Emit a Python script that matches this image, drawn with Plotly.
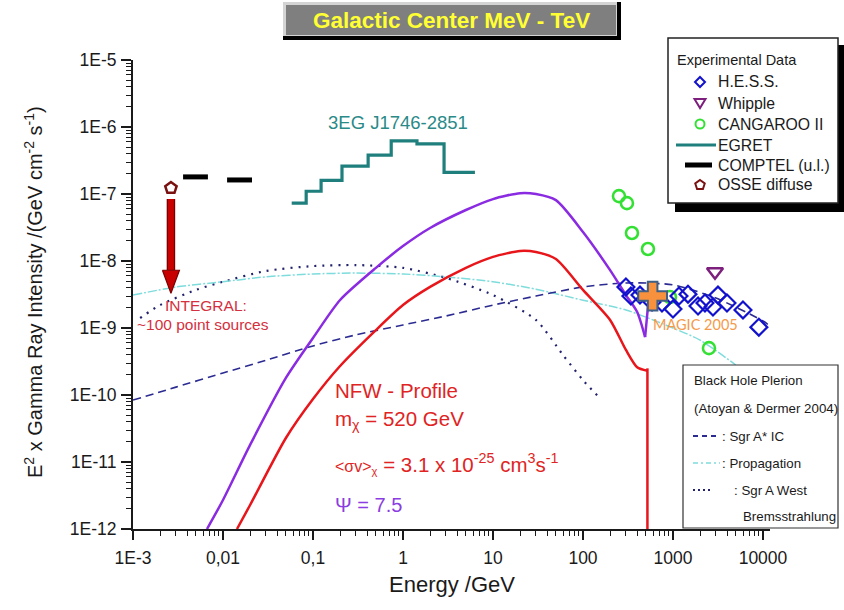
import math
import plotly.graph_objects as go

# ---------------- data ----------------
# EGRET 3EG J1746-2851 binned spectrum (bin edges in GeV, one flux per bin)
egret_edges = [0.058, 0.084, 0.123, 0.21, 0.41, 0.74, 1.43, 2.86, 6.3]
egret_flux = [7.3e-8, 1.1e-7, 1.6e-7, 2.6e-7, 3.8e-7, 6.2e-7, 5.6e-7, 2.1e-7]

# COMPTEL upper limits (energy band low/high, flux)
comptel_lo = [0.0036, 0.0111]
comptel_hi = [0.0068, 0.021]
comptel_flux = [1.8e-7, 1.62e-7]

# OSSE diffuse point and the INTEGRAL point-source level it is pushed down to
osse_e = [0.00264]
osse_f = [1.23e-7]
integral_level = 3.3e-9

# H.E.S.S.
hess_e = [300, 341, 430, 585, 755, 1000, 1166, 1468, 1897, 2268, 2783, 3162, 3981, 5995, 9000]
hess_f = [4.1e-9, 3.0e-9, 3.1e-9, 2.44e-9, 2.36e-9, 1.92e-9, 3.0e-9, 3.2e-9, 2.13e-9,
          2.36e-9, 2.06e-9, 3.1e-9, 2.36e-9, 1.86e-9, 1.03e-9]

# Whipple
whipple_e = [2930]
whipple_f = [6.9e-9]

# CANGAROO II
cang_e = [251, 308, 350, 527, 926, 2512]
cang_f = [9.3e-8, 7.3e-8, 2.62e-8, 1.51e-8, 2.9e-9, 5.0e-10]

# MAGIC 2005
magic_e = [594]
magic_f = [3.0e-9]

# Neutralino annihilation, NFW profile, m_chi = 520 GeV
m_chi = 520
nfw_e = [0.0143, 0.02, 0.05, 0.1, 0.2, 0.5, 1, 2, 5, 10, 20, 30, 50, 100, 200, 300, 400, 520]
nfw_f = [1e-12, 2.28e-12, 2.28e-11, 8.7e-11, 2.71e-10, 9.3e-10, 2.2e-9, 4.1e-9, 7.9e-9,
         1.15e-8, 1.41e-8, 1.36e-8, 1.07e-8, 3.7e-9, 1.32e-9, 4.7e-10, 2.6e-10, 2.3e-10]
nfw_cutoff_top = 2.5e-10

# Same spectrum with boost factor Psi = 7.5
boost_e = [0.00664, 0.01, 0.02, 0.05, 0.1, 0.2, 0.5, 1, 2, 5, 10, 20, 30, 50, 100, 200,
           300, 400, 490, 527]
boost_f = [1e-12, 2.71e-12, 1.8e-11, 1.8e-10, 7.1e-10, 2.62e-9, 7.9e-9, 1.67e-8, 3.11e-8,
           5.77e-8, 8.4e-8, 1.03e-7, 1.0e-7, 8.1e-8, 2.71e-8, 7.3e-9, 3.1e-9, 1.73e-9,
           7.3e-10, 2.06e-9]

# Black hole plerion model (Atoyan & Dermer 2004)
ic_e = [0.001, 0.003, 0.01, 0.03, 0.1, 0.3, 1, 3, 10, 30, 100, 300, 1000, 3000, 10000, 12000]
ic_f = [8.4e-11, 1.31e-10, 2.13e-10, 3.3e-10, 5.4e-10, 7.9e-10, 1.11e-9, 1.51e-9, 2.2e-9,
        3.0e-9, 4.1e-9, 4.7e-9, 4.4e-9, 2.8e-9, 1.27e-9, 1.07e-9]

prop_e = [0.001, 0.003, 0.01, 0.03, 0.1, 0.3, 1, 3, 10, 30, 100, 300, 1000, 2000, 5000]
prop_f = [3.1e-9, 4.1e-9, 4.9e-9, 5.8e-9, 6.4e-9, 6.6e-9, 6.4e-9, 5.8e-9, 4.9e-9, 3.8e-9,
          2.6e-9, 1.86e-9, 1.0e-9, 6.6e-10, 2.8e-10]

west_e = [0.0012, 0.002, 0.005, 0.01, 0.03, 0.1, 0.3, 1, 3, 10, 30, 60, 100, 150]
west_f = [1.41e-9, 2.2e-9, 3.7e-9, 4.9e-9, 7.1e-9, 8.4e-9, 8.7e-9, 7.9e-9, 5.6e-9, 3.1e-9,
          1.32e-9, 3.95e-10, 1.67e-10, 9.3e-11]

# axis ticks
x_tick_vals = [1e-3, 1e-2, 1e-1, 1, 10, 100, 1000, 10000]
x_tick_text = ["1E-3", "0,01", "0,1", "1", "10", "100", "1000", "10000"]
y_tick_vals = [1e-12, 1e-11, 1e-10, 1e-9, 1e-8, 1e-7, 1e-6, 1e-5]
y_tick_text = ["1E-12", "1E-11", "1E-10", "1E-9", "1E-8", "1E-7", "1E-6", "1E-5"]

# ---------------- layout geometry (page pixels) ----------------
W, H = 844, 610
L, R, T, B = 133, 770, 60, 529
PX_PER_DEC_X = (R - L) / 7.078
PX_PER_DEC_Y = (B - T) / 7.0
FONT = "Liberation Sans, Arial, sans-serif"
INK = "#1a1a1a"


def pxx(x):
    return (x - L) / (R - L)


def pyy(y):
    return (B - y) / (B - T)


fig = go.Figure()


def curve(x, y, color, width, dash="solid", smooth=True):
    line = dict(color=color, width=width, dash=dash)
    if smooth:
        line.update(shape="spline", smoothing=0.7)
    fig.add_trace(go.Scatter(x=x, y=y, mode="lines", line=line))


# ---------------- model curves ----------------
curve(west_e, west_f, "#22226e", 2.2, "2px,6px")
curve(prop_e, prop_f, "#7fdcdc", 1.5, "9px,2px,2px,2px")
curve(ic_e, ic_f, "#2b2b92", 1.6, "8px,5px")
curve(nfw_e, nfw_f, "#e8161b", 2.5)
curve([m_chi, m_chi], [nfw_cutoff_top, 1e-13], "#e8161b", 2.5, smooth=False)
curve(boost_e[:-1], boost_f[:-1], "#8a2be2", 2.5)
curve(boost_e[-2:], boost_f[-2:], "#8a2be2", 2.5, smooth=False)

# ---------------- EGRET histogram ----------------
fig.add_trace(go.Scatter(x=egret_edges, y=egret_flux + [egret_flux[-1]], mode="lines",
                         line=dict(color="#1f7f7c", width=3.2, shape="hv")))

# ---------------- COMPTEL upper limits ----------------
for lo, hi, f in zip(comptel_lo, comptel_hi, comptel_flux):
    fig.add_trace(go.Scatter(x=[lo, hi], y=[f, f], mode="lines",
                             line=dict(color="black", width=5)))

# ---------------- OSSE point with arrow down to INTEGRAL level ----------------
e0 = osse_e[0]
shaft_top = osse_f[0] * 10 ** (-11 / PX_PER_DEC_Y)
head_base = integral_level * 10 ** (23 / PX_PER_DEC_Y)
half_head = 10 ** (8.5 / PX_PER_DEC_X)
fig.add_trace(go.Scatter(x=[e0, e0], y=[shaft_top, head_base], mode="lines",
                         line=dict(color="#7a0000", width=8.5)))
fig.add_trace(go.Scatter(x=[e0, e0], y=[shaft_top, head_base], mode="lines",
                         line=dict(color="#c80000", width=6)))
fig.add_trace(go.Scatter(x=[e0 / half_head, e0 * half_head, e0, e0 / half_head],
                         y=[head_base, head_base, integral_level, head_base],
                         mode="lines", fill="toself", fillcolor="#c80000",
                         line=dict(color="#7a0000", width=1.2)))
fig.add_trace(go.Scatter(x=osse_e, y=osse_f, mode="markers",
                         marker=dict(symbol="pentagon-open", size=12, color="#7a1010",
                                     line=dict(width=2.5, color="#7a1010"))))

# ---------------- VHE data points ----------------
fig.add_trace(go.Scatter(x=cang_e, y=cang_f, mode="markers",
                         marker=dict(symbol="circle-open", size=12, color="#34e034",
                                     line=dict(width=2.6, color="#34e034"))))
fig.add_trace(go.Scatter(x=hess_e, y=hess_f, mode="markers",
                         marker=dict(symbol="diamond-open", size=13, color="#1212cc",
                                     line=dict(width=2.2, color="#1212cc"))))
fig.add_trace(go.Scatter(x=whipple_e, y=whipple_f, mode="markers",
                         marker=dict(symbol="triangle-down-open", size=14, color="#7d1f7d",
                                     line=dict(width=2.5, color="#7d1f7d"))))
fig.add_trace(go.Scatter(x=magic_e, y=magic_f, mode="markers",
                         marker=dict(symbol="cross", size=24, color="#f7913d",
                                     line=dict(width=2, color="#3f5f85"))))

# ---------------- axes ----------------
tick_font = dict(family=FONT, size=17.5, color=INK)
x_minor = [m * 10 ** e for e in range(-3, 5) for m in range(2, 10)]
y_minor = [m * 10 ** e for e in range(-12, -5) for m in range(2, 10)]
fig.update_xaxes(type="log", range=[-3, 4.078], tickmode="array", tickvals=x_tick_vals,
                 ticktext=x_tick_text, ticks="outside", ticklen=9, tickwidth=1.6,
                 tickcolor=INK, showline=True, linewidth=2, linecolor=INK, showgrid=False,
                 zeroline=False, tickfont=tick_font, ticklabelstandoff=3,
                 minor=dict(tickvals=x_minor, ticks="outside", ticklen=5, tickwidth=1.3,
                            tickcolor=INK, showgrid=False))
fig.update_yaxes(type="log", range=[-12, -5], tickmode="array", tickvals=y_tick_vals,
                 ticktext=y_tick_text, ticks="outside", ticklen=10, tickwidth=1.6,
                 tickcolor=INK, showline=True, linewidth=2, linecolor=INK, showgrid=False,
                 zeroline=False, tickfont=tick_font, ticklabelstandoff=1,
                 minor=dict(tickvals=y_minor, ticks="outside", ticklen=5, tickwidth=1.3,
                            tickcolor=INK, showgrid=False))


# ---------------- decoration helpers ----------------
def label(x, y, text, size, color, anchor="left", **kw):
    fig.add_annotation(x=pxx(x), y=pyy(y), xref="paper", yref="paper", text=text,
                       showarrow=False, xanchor=anchor, yanchor="middle",
                       font=dict(family=kw.pop("family", FONT), size=size, color=color), **kw)


def rect(x0, y0, x1, y1, fill, line_color=None, lw=0):
    fig.add_shape(type="rect", xref="paper", yref="paper", x0=pxx(x0), x1=pxx(x1),
                  y0=pyy(y0), y1=pyy(y1), fillcolor=fill,
                  line=dict(color=line_color or fill, width=lw), layer="above")


def poly(points, line_color, lw, fill="rgba(0,0,0,0)"):
    path = "M " + " L ".join(f"{pxx(x):.5f},{pyy(y):.5f}" for x, y in points) + " Z"
    fig.add_shape(type="path", path=path, xref="paper", yref="paper", fillcolor=fill,
                  line=dict(color=line_color, width=lw), layer="above")


def hline(x0, x1, y, color, width, dash="solid"):
    fig.add_shape(type="line", xref="paper", yref="paper", x0=pxx(x0), x1=pxx(x1),
                  y0=pyy(y), y1=pyy(y), line=dict(color=color, width=width, dash=dash),
                  layer="above")


# ---------------- title banner ----------------
rect(283, 2, 621, 40, "#000000")
rect(283, 2, 617, 36, "#d4d4d4")
rect(286, 5, 616, 35, "#7f7f7f")
label(451, 20, "<b>Galactic Center MeV - TeV</b>", 22.5, "#ffff33", anchor="center")

# ---------------- experimental data legend ----------------
rect(675, 45, 846, 212, "#000000")
rect(668, 38, 838, 203, "white", "#222222", 1.5)
label(675, 60, "Experimental Data", 14.5, INK)
leg_rows = [82, 103, 124, 145, 165, 185]
for y, name in zip(leg_rows, ["H.E.S.S.", "Whipple", "CANGAROO II", "EGRET",
                              "COMPTEL (u.l.)", "OSSE diffuse"]):
    label(716, y, name, 15.8, INK)
cx = 700
poly([(cx, 77), (cx + 5, 82), (cx, 87), (cx - 5, 82)], "#1212cc", 2)
poly([(cx - 5.5, 99), (cx + 5.5, 99), (cx, 108)], "#7d1f7d", 2)
fig.add_shape(type="circle", xref="paper", yref="paper", x0=pxx(cx - 4.5), x1=pxx(cx + 4.5),
              y0=pyy(124 - 4.5), y1=pyy(124 + 4.5), line=dict(color="#34e034", width=2),
              layer="above")
hline(676, 716, 145, "#1f7f7c", 3)
hline(685, 712, 165, "black", 5)
pent = [(cx + 5 * math.cos(math.radians(-90 + 72 * k)),
         185 + 5 * math.sin(math.radians(-90 + 72 * k))) for k in range(5)]
poly(pent, "#7a1010", 2)

# ---------------- model legend ----------------
rect(683, 365, 838, 528, "white", "#333333", 1.2)
label(692, 380, "Black Hole Plerion", 13.3, INK)
label(692, 408, "(Atoyan &amp; Dermer 2004)", 13.3, INK)
hline(693, 720, 436, "#2b2b92", 2, "5px,4px")
label(720, 436, ": Sgr A* IC", 13.3, INK)
hline(693, 720, 463, "#7fdcdc", 1.5, "5px,3px,2px,3px")
label(720, 463, ": Propagation", 13.3, INK)
hline(693, 713, 490, "#22226e", 2.2, "2px,3px")
label(732, 490, ": Sgr A West", 13.3, INK)
label(741, 516, "Bremsstrahlung", 13.3, INK)

# ---------------- in-plot labels ----------------
label(398, 122, "3EG J1746-2851", 18.5, "#2a8a88", anchor="center")
label(163, 305, "INTEGRAL:", 15.5, "#d43040")
label(135, 324, "~100 point sources", 15.5, "#d43040")
label(651, 324, "MAGIC 2005", 14.5, "#f59a4a", family="Lato, Open Sans, sans-serif")
label(333, 390, "NFW - Profile", 20.5, "#e02424")
label(333, 420, "m<sub>\u03c7</sub> = 520 GeV", 20.5, "#e02424")
label(333, 463, "<span style='font-size:16px'>&lt;\u03c3v&gt;<sub>\u03c7</sub></span>"
      " = 3.1 x 10<sup>-25</sup> cm<sup>3</sup>s<sup>-1</sup>", 20.5, "#e02424")
label(333, 505, "\u03a8 = 7.5", 20, "#8a3de0")

# axis titles
label(33, 292, "E<sup>2</sup> x Gamma Ray Intensity /(GeV cm<sup>-2</sup> s<sup>-1</sup>)",
      20, INK, anchor="center", textangle=-90)
label(452, 584, "Energy /GeV", 22, INK, anchor="center")

fig.update_layout(width=W, height=H, margin=dict(l=L, r=W - R, t=T, b=H - B),
                  paper_bgcolor="white", plot_bgcolor="white", showlegend=False,
                  font=dict(family=FONT, color=INK))

fig.write_html("out.html")
